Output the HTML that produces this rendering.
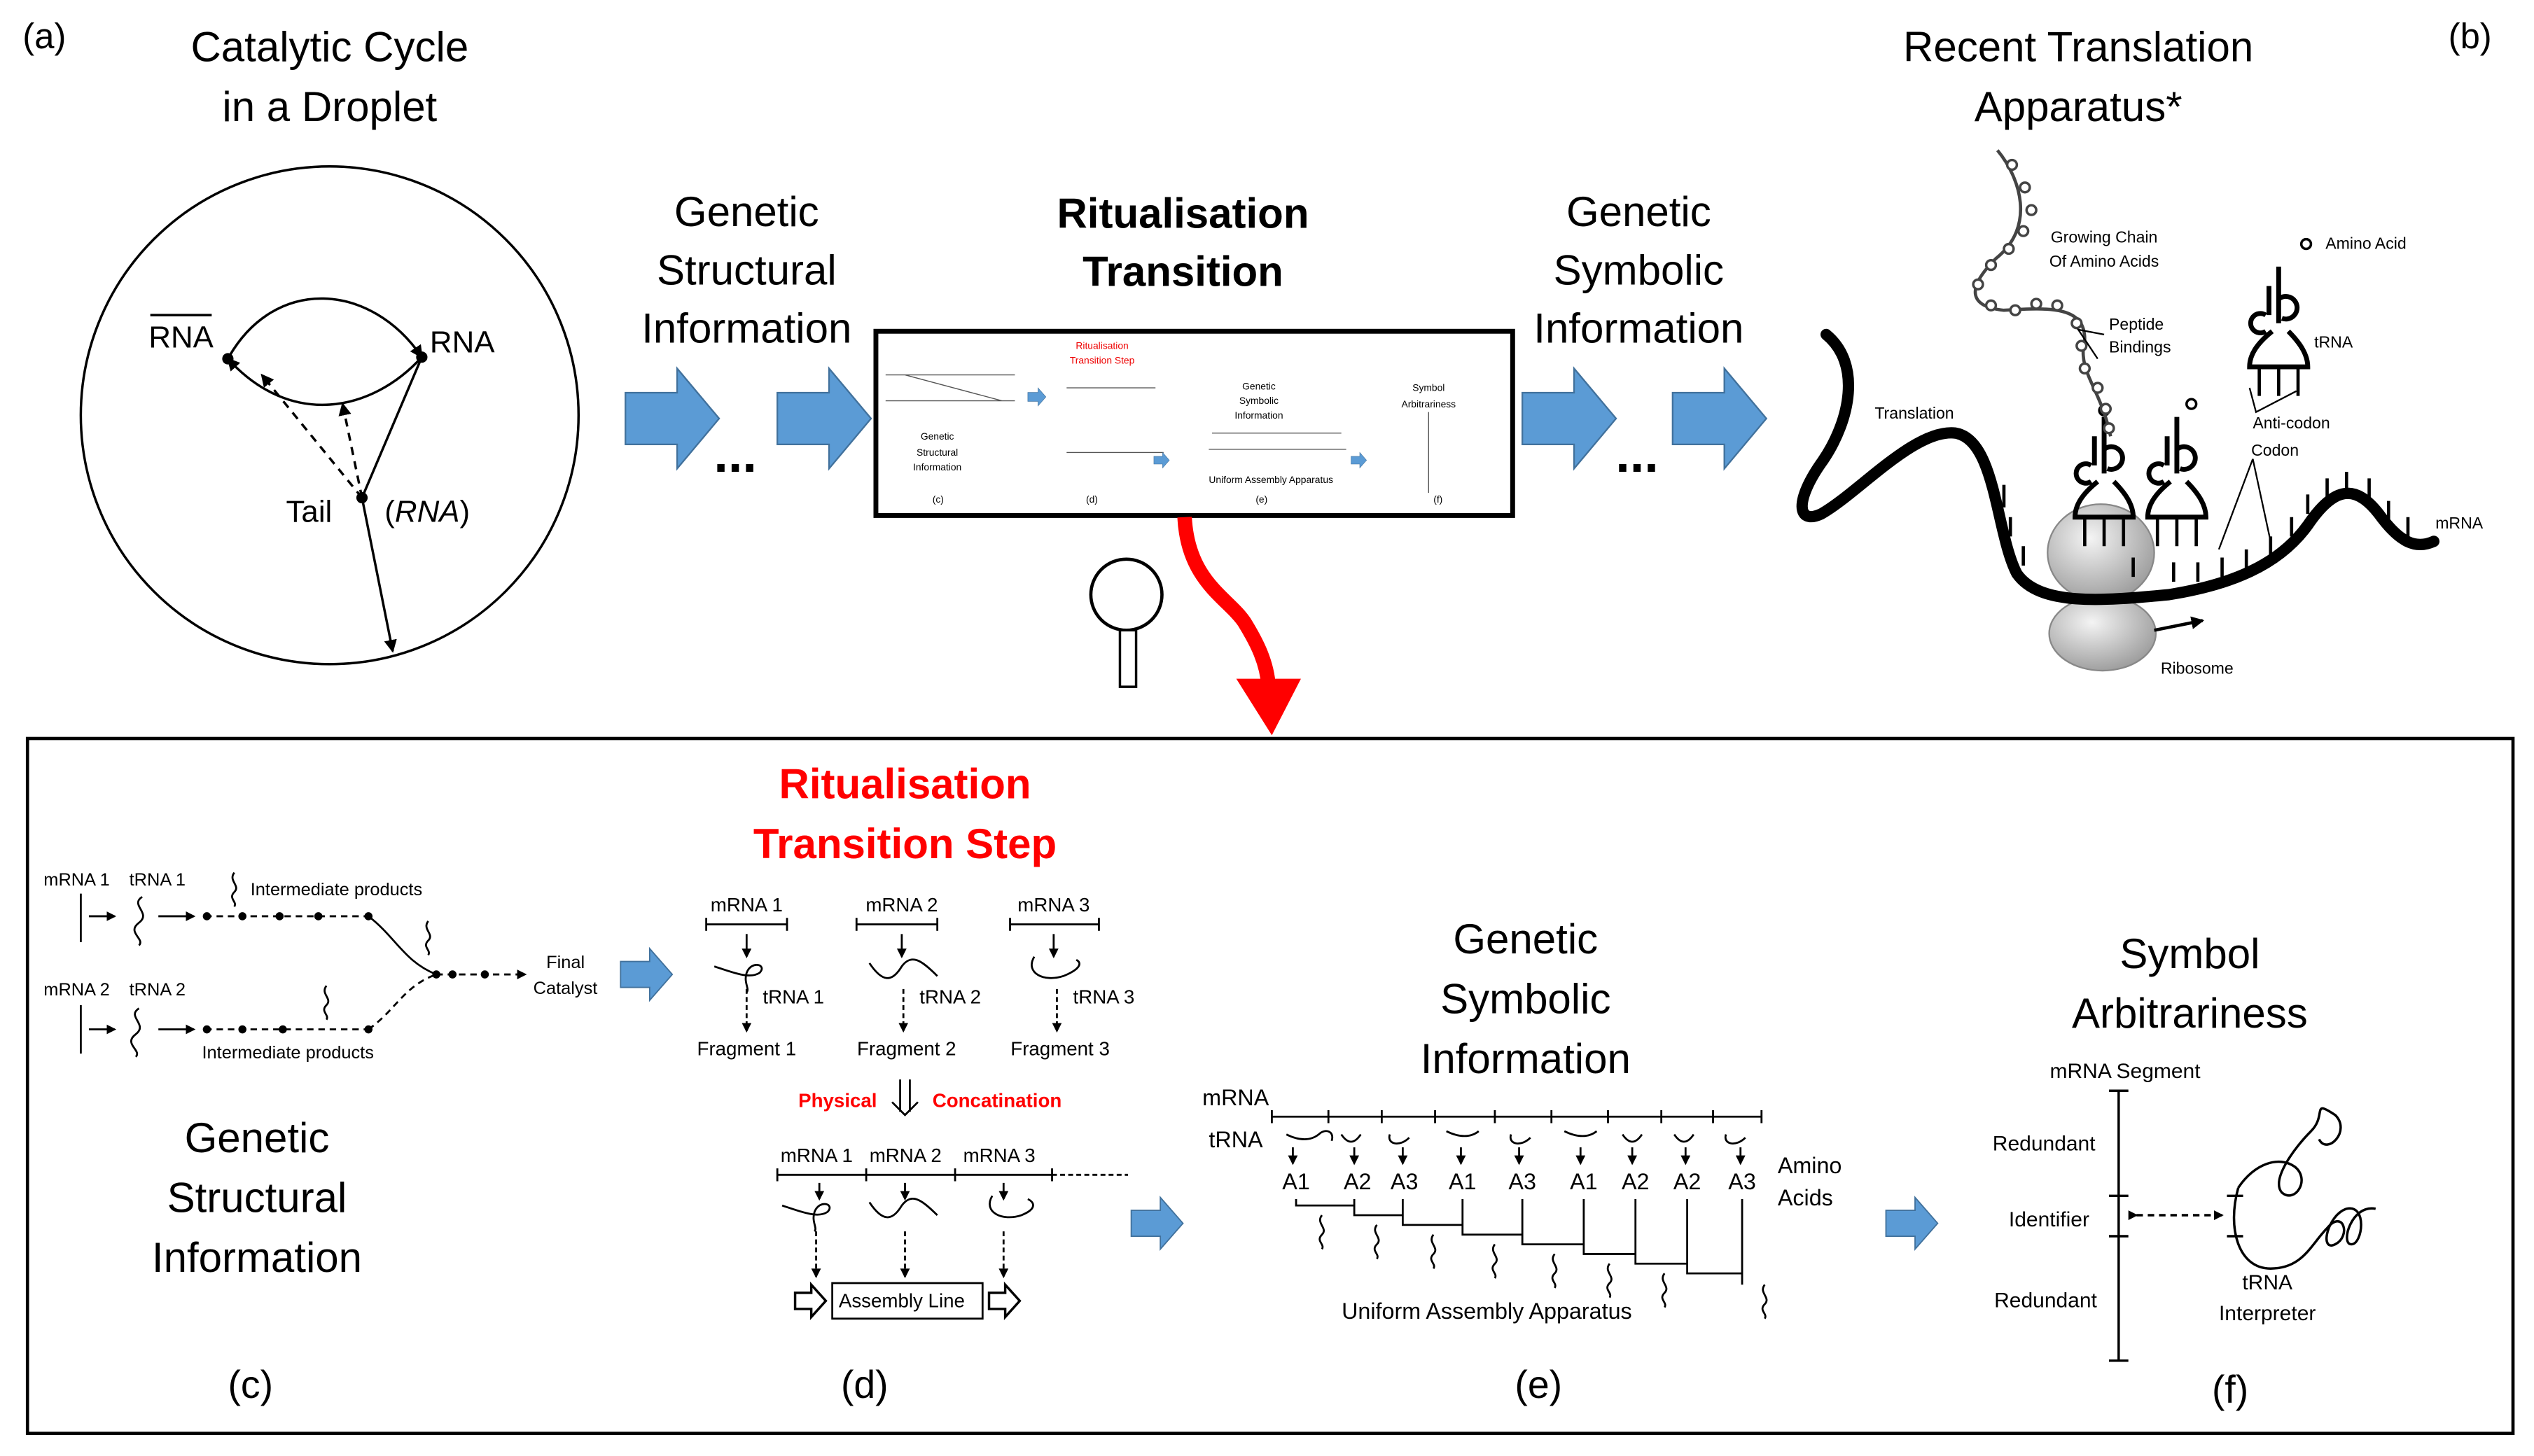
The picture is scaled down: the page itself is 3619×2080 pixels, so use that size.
<!DOCTYPE html>
<html><head><meta charset="utf-8"><style>
html,body{margin:0;padding:0;background:#fff;}
svg{display:block;}
text{font-family:"Liberation Sans",sans-serif;fill:#000;}
</style></head><body>
<svg width="3619" height="2080" viewBox="0 0 1568 901" preserveAspectRatio="none" xmlns="http://www.w3.org/2000/svg">
<defs>
<marker id="ah" markerWidth="8" markerHeight="8" refX="7" refY="4" orient="auto" markerUnits="userSpaceOnUse"><path d="M0,0 L8,4 L0,8 z" fill="#000"/></marker>
<marker id="as" markerWidth="6" markerHeight="6" refX="5" refY="3" orient="auto" markerUnits="userSpaceOnUse"><path d="M0,0 L6,3 L0,6 z" fill="#000"/></marker>
<radialGradient id="rg" cx="40%" cy="35%" r="70%"><stop offset="0" stop-color="#f4f4f4"/><stop offset="1" stop-color="#9a9a9a"/></radialGradient>
<g id="barrow"><path d="M0,15 L32,15 L32,0 L58,31 L32,62 L32,47 L0,47 z" fill="#5b9bd5" stroke="#41719c" stroke-width="1"/></g>
<g id="sarrow"><path d="M0,8 L18,8 L18,0 L32,16 L18,32 L18,24 L0,24 z" fill="#5b9bd5" stroke="#41719c" stroke-width="0.8"/></g>
<g id="trna" fill="none" stroke="#000" stroke-width="3">
<path d="M0,-40 L0,-5 M-6,-28 L-6,-10 M0,-20 a7,7 0 1 1 2,12"/>
<path d="M-8,-10 a6,6 0 1 0 0,10"/>
<path d="M-4,0 C-14,8 -18,15 -18,22 L18,22 C18,15 14,8 6,0"/>
<path d="M-12,22 v18 M0,22 v18 M12,22 v18" stroke-width="2"/>
</g>
</defs>

<!-- (a) -->
<text x="14" y="30" font-size="22">(a)</text>
<text x="204" y="38" font-size="26" text-anchor="middle">Catalytic Cycle</text>
<text x="204" y="75" font-size="26" text-anchor="middle">in a Droplet</text>
<circle cx="204" cy="257" r="154" fill="none" stroke="#000" stroke-width="1.5"/>
<text x="92" y="215" font-size="19">RNA</text>
<line x1="93" y1="195" x2="131" y2="195" stroke="#000" stroke-width="1.5"/>
<text x="266" y="218" font-size="19">RNA</text>
<path d="M141,222 C170,170 230,175 261,221" fill="none" stroke="#000" stroke-width="1.5" marker-end="url(#ah)"/>
<path d="M261,221 C230,255 180,265 141,222" fill="none" stroke="#000" stroke-width="1.5" marker-end="url(#ah)"/>
<circle cx="141" cy="222" r="3.5"/><circle cx="261" cy="221" r="3.5"/>
<circle cx="224" cy="308" r="3.5"/>
<line x1="224" y1="308" x2="261" y2="221" stroke="#000" stroke-width="1.5"/>
<line x1="224" y1="308" x2="162" y2="232" stroke="#000" stroke-width="1.5" stroke-dasharray="5,4" marker-end="url(#ah)"/>
<line x1="224" y1="308" x2="212" y2="250" stroke="#000" stroke-width="1.5" stroke-dasharray="5,4" marker-end="url(#ah)"/>
<line x1="224" y1="308" x2="243" y2="403" stroke="#000" stroke-width="1.5" marker-end="url(#ah)"/>
<text x="177" y="323" font-size="19">Tail</text>
<text x="238" y="323" font-size="19">(<tspan font-style="italic">RNA</tspan>)</text>

<!-- top middle -->
<text x="462" y="140" font-size="26" text-anchor="middle">Genetic</text>
<text x="462" y="176" font-size="26" text-anchor="middle">Structural</text>
<text x="462" y="212" font-size="26" text-anchor="middle">Information</text>
<use href="#barrow" x="387" y="228"/>
<use href="#barrow" x="481" y="228"/>
<text x="455" y="292" font-size="32" font-weight="bold" text-anchor="middle">...</text>
<text x="732" y="141" font-size="26" font-weight="bold" text-anchor="middle">Ritualisation</text>
<text x="732" y="177" font-size="26" font-weight="bold" text-anchor="middle">Transition</text>
<rect x="542" y="205" width="394" height="114" fill="#fff" stroke="#000" stroke-width="3"/>
<g font-size="6">
<text x="682" y="216" style="fill:#e00" text-anchor="middle">Ritualisation</text>
<text x="682" y="225" style="fill:#e00" text-anchor="middle">Transition Step</text>
<text x="580" y="272" text-anchor="middle">Genetic</text>
<text x="580" y="282" text-anchor="middle">Structural</text>
<text x="580" y="291" text-anchor="middle">Information</text>
<text x="779" y="241" text-anchor="middle">Genetic</text>
<text x="779" y="250" text-anchor="middle">Symbolic</text>
<text x="779" y="259" text-anchor="middle">Information</text>
<text x="884" y="242" text-anchor="middle">Symbol</text>
<text x="884" y="252" text-anchor="middle">Arbitrariness</text>
<text x="577" y="311">(c)</text><text x="672" y="311">(d)</text><text x="777" y="311">(e)</text><text x="887" y="311">(f)</text>
<text x="748" y="299">Uniform Assembly Apparatus</text>
</g>
<g stroke="#555" stroke-width="0.6" fill="none">
<path d="M548,232 h80 M548,248 h80 M560,232 l60,16 M750,268 h80 M748,278 h85 M884,255 v50 M660,280 h60 M660,240 h55"/>
</g>
<use href="#sarrow" transform="translate(636,240) scale(0.35)"/>
<use href="#sarrow" transform="translate(714,280) scale(0.3)"/>
<use href="#sarrow" transform="translate(836,280) scale(0.3)"/>
<text x="1014" y="140" font-size="26" text-anchor="middle">Genetic</text>
<text x="1014" y="176" font-size="26" text-anchor="middle">Symbolic</text>
<text x="1014" y="212" font-size="26" text-anchor="middle">Information</text>
<use href="#barrow" x="942" y="228"/>
<use href="#barrow" x="1035" y="228"/>
<text x="1013" y="292" font-size="32" font-weight="bold" text-anchor="middle">...</text>

<!-- magnifier + red arrow -->
<circle cx="697" cy="368" r="22" fill="#fff" stroke="#000" stroke-width="2"/>
<rect x="693" y="390" width="10" height="35" fill="#fff" stroke="#000" stroke-width="1.5"/>
<path d="M733,320 C735,360 760,370 770,385 C778,398 784,410 785,425" fill="none" stroke="#f00" stroke-width="9"/>
<path d="M765,420 L805,420 L787,455 z" fill="#f00"/>

<!-- (b) -->
<text x="1286" y="38" font-size="26" text-anchor="middle">Recent Translation</text>
<text x="1286" y="75" font-size="26" text-anchor="middle">Apparatus*</text>
<text x="1515" y="30" font-size="22">(b)</text>
<ellipse cx="1300" cy="342" rx="33" ry="30" fill="url(#rg)" stroke="#888"/>
<ellipse cx="1301" cy="392" rx="33" ry="23" fill="url(#rg)" stroke="#888"/>
<path d="M1130,207 C1152,225 1145,260 1128,285 C1110,310 1112,325 1127,318 C1150,305 1185,265 1210,268 C1235,272 1235,330 1248,355 C1262,375 1300,372 1342,368 C1380,362 1410,350 1428,325 C1445,300 1458,300 1472,318 C1485,336 1495,340 1506,335" fill="none" stroke="#000" stroke-width="7" stroke-linecap="round"/>
<path d="M1240,300 v14 M1244,320 v12 M1252,338 v12 M1320,345 v12 M1345,348 v12 M1360,348 v12 M1375,345 v12 M1390,340 v12 M1405,332 v12 M1418,320 v12 M1428,306 v12 M1440,296 v12 M1452,292 v12 M1466,296 v12 M1478,310 v12 M1490,320 v12" stroke="#000" stroke-width="2" fill="none"/>
<line x1="1333" y1="390" x2="1363" y2="384" stroke="#000" stroke-width="2" marker-end="url(#ah)"/>
<use href="#trna" x="1302" y="298"/>
<use href="#trna" x="1347" y="298"/>
<use href="#trna" x="1410" y="205"/>
<circle cx="1302" cy="254" r="3" fill="#fff" stroke="#000" stroke-width="1.5"/>
<circle cx="1356" cy="250" r="3" fill="#fff" stroke="#000" stroke-width="1.5"/>
<circle cx="1427" cy="151" r="3" fill="#fff" stroke="#000" stroke-width="1.5"/>
<path d="M1236,93 C1250,110 1260,140 1235,160 C1215,180 1220,190 1240,192 C1270,190 1290,190 1290,210 C1285,230 1300,240 1306,270" fill="none" stroke="#444" stroke-width="2"/>
<g fill="#fff" stroke="#444" stroke-width="1.5">
<circle cx="1245" cy="102" r="3"/><circle cx="1253" cy="116" r="3"/><circle cx="1257" cy="130" r="3"/><circle cx="1252" cy="143" r="3"/><circle cx="1243" cy="154" r="3"/><circle cx="1232" cy="164" r="3"/><circle cx="1224" cy="176" r="3"/><circle cx="1232" cy="189" r="3"/><circle cx="1247" cy="192" r="3"/><circle cx="1260" cy="188" r="3"/><circle cx="1273" cy="189" r="3"/><circle cx="1285" cy="200" r="3"/><circle cx="1288" cy="214" r="3"/><circle cx="1290" cy="228" r="3"/><circle cx="1298" cy="240" r="3"/><circle cx="1303" cy="253" r="3"/><circle cx="1305" cy="265" r="3"/>
</g>
<g font-size="10">
<text x="1302" y="150" text-anchor="middle">Growing Chain</text>
<text x="1302" y="165" text-anchor="middle">Of Amino Acids</text>
<text x="1305" y="204">Peptide</text><text x="1305" y="218">Bindings</text>
<text x="1439" y="154">Amino Acid</text>
<text x="1432" y="215">tRNA</text>
<text x="1394" y="265">Anti-codon</text>
<text x="1393" y="282">Codon</text>
<text x="1160" y="259">Translation</text>
<text x="1507" y="327">mRNA</text>
<text x="1337" y="417">Ribosome</text>
</g>
<path d="M1302,207 L1286,204 L1298,222 M1392,240 L1396,255 L1421,242 M1394,284 L1373,340 M1394,284 L1405,335" fill="none" stroke="#000" stroke-width="1"/>

<!-- bottom panel -->
<rect x="17" y="457" width="1538" height="430" fill="none" stroke="#000" stroke-width="2"/>

<!-- (c) -->
<g font-size="11">
<text x="27" y="548">mRNA 1</text><text x="80" y="548">tRNA 1</text>
<text x="155" y="554">Intermediate products</text>
<text x="27" y="616">mRNA 2</text><text x="80" y="616">tRNA 2</text>
<text x="125" y="655">Intermediate products</text>
<text x="338" y="599">Final</text><text x="330" y="615">Catalyst</text>
</g>
<g stroke="#000" stroke-width="1.2" fill="none">
<line x1="50" y1="553" x2="50" y2="583"/><line x1="55" y1="567" x2="71" y2="567" marker-end="url(#as)"/>
<path d="M88,555 c-8,5 6,10 -2,16 c-8,6 4,10 0,14"/>
<line x1="98" y1="567" x2="120" y2="567" marker-end="url(#as)"/>
<line x1="127" y1="567" x2="228" y2="567" stroke-dasharray="4,3"/>
<path d="M228,567 C245,580 250,595 270,603"/>
<line x1="50" y1="622" x2="50" y2="652"/><line x1="55" y1="637" x2="71" y2="637" marker-end="url(#as)"/>
<path d="M86,624 c-8,5 6,10 -2,16 c-8,6 4,10 0,14"/>
<line x1="98" y1="637" x2="120" y2="637" marker-end="url(#as)"/>
<line x1="127" y1="637" x2="228" y2="637" stroke-dasharray="4,3"/>
<path d="M228,637 C245,625 250,610 270,603" stroke-dasharray="4,3"/>
<line x1="270" y1="603" x2="325" y2="603" stroke-dasharray="4,3" marker-end="url(#as)"/>
<path d="M145,540 c-4,5 4,8 0,12 c-4,4 2,6 0,9" /><path d="M265,570 c-4,5 4,8 0,12 c-4,4 2,6 0,9"/><path d="M202,610 c-4,5 4,8 0,12 c-4,4 2,6 0,9"/>
</g>
<g><circle cx="128" cy="567" r="2.5"/><circle cx="150" cy="567" r="2.5"/><circle cx="173" cy="567" r="2.5"/><circle cx="197" cy="567" r="2.5"/><circle cx="228" cy="567" r="2.5"/>
<circle cx="128" cy="637" r="2.5"/><circle cx="150" cy="637" r="2.5"/><circle cx="175" cy="637" r="2.5"/><circle cx="228" cy="637" r="2.5"/><circle cx="270" cy="603" r="2.5"/><circle cx="280" cy="603" r="2.5"/><circle cx="300" cy="603" r="2.5"/></g>
<use href="#sarrow" x="384" y="587"/>
<text x="159" y="713" font-size="26" text-anchor="middle">Genetic</text>
<text x="159" y="750" font-size="26" text-anchor="middle">Structural</text>
<text x="159" y="787" font-size="26" text-anchor="middle">Information</text>
<text x="155" y="865" font-size="24" text-anchor="middle">(c)</text>

<!-- (d) -->
<text x="560" y="494" font-size="26" font-weight="bold" style="fill:#f00" text-anchor="middle">Ritualisation</text>
<text x="560" y="531" font-size="26" font-weight="bold" style="fill:#f00" text-anchor="middle">Transition Step</text>
<g font-size="12">
<text x="462" y="564" text-anchor="middle">mRNA 1</text><text x="558" y="564" text-anchor="middle">mRNA 2</text><text x="652" y="564" text-anchor="middle">mRNA 3</text>
<text x="472" y="621">tRNA 1</text><text x="569" y="621">tRNA 2</text><text x="664" y="621">tRNA 3</text>
<text x="462" y="653" text-anchor="middle">Fragment 1</text><text x="561" y="653" text-anchor="middle">Fragment 2</text><text x="656" y="653" text-anchor="middle">Fragment 3</text>
<text x="494" y="685" font-weight="bold" style="fill:#f00">Physical</text>
<text x="577" y="685" font-weight="bold" style="fill:#f00">Concatination</text>
<text x="483" y="719">mRNA 1</text><text x="538" y="719">mRNA 2</text><text x="596" y="719">mRNA 3</text>
<text x="519" y="809">Assembly Line</text>
</g>
<g stroke="#000" stroke-width="1.2" fill="none">
<path d="M437,572 h50 M437,568 v8 M487,568 v8 M530,572 h50 M530,568 v8 M580,568 v8 M625,572 h55 M625,568 v8 M680,568 v8"/>
<line x1="462" y1="578" x2="462" y2="592" marker-end="url(#as)"/><line x1="558" y1="578" x2="558" y2="592" marker-end="url(#as)"/><line x1="652" y1="578" x2="652" y2="592" marker-end="url(#as)"/>
<path d="M442,598 c12,4 22,8 28,4 c5,-5 -5,-8 -8,0 c-2,6 2,10 0,12" /><path d="M538,596 c8,12 14,12 20,2 c6,-8 12,-4 22,6"/><path d="M640,592 c-6,10 6,16 18,12 c10,-4 12,-8 8,-10"/>
<line x1="462" y1="612" x2="462" y2="638" stroke-dasharray="3,2" marker-end="url(#as)"/><line x1="559" y1="612" x2="559" y2="638" stroke-dasharray="3,2" marker-end="url(#as)"/><line x1="654" y1="612" x2="654" y2="638" stroke-dasharray="3,2" marker-end="url(#as)"/>
<path d="M557,668 v20 M563,668 v20 M552,682 l8,8 l8,-8"/>
<path d="M481,727 h170 M481,723 v8 M536,723 v8 M591,723 v8 M651,723 v8"/><path d="M651,727 h47" stroke-dasharray="3,2"/>
<line x1="507" y1="732" x2="507" y2="742" marker-end="url(#as)"/><line x1="560" y1="732" x2="560" y2="742" marker-end="url(#as)"/><line x1="621" y1="732" x2="621" y2="742" marker-end="url(#as)"/>
<path d="M484,746 c12,4 22,8 28,4 c5,-5 -5,-8 -8,0 c-2,6 2,10 0,12"/><path d="M538,744 c8,12 14,12 20,2 c6,-8 12,-4 22,6"/><path d="M614,740 c-6,10 6,16 18,12 c10,-4 8,-8 4,-10"/>
<line x1="505" y1="762" x2="505" y2="790" stroke-dasharray="3,2" marker-end="url(#as)"/><line x1="560" y1="762" x2="560" y2="790" stroke-dasharray="3,2" marker-end="url(#as)"/><line x1="621" y1="762" x2="621" y2="790" stroke-dasharray="3,2" marker-end="url(#as)"/>
<rect x="515" y="794" width="93" height="22"/>
<path d="M492,800 h10 v-5 l9,10 l-9,10 v-5 h-10 z M612,800 h10 v-5 l9,10 l-9,10 v-5 h-10 z" stroke-width="1.5"/>
</g>
<text x="535" y="865" font-size="24" text-anchor="middle">(d)</text>
<use href="#sarrow" x="700" y="741"/>

<!-- (e) -->
<text x="944" y="590" font-size="26" text-anchor="middle">Genetic</text>
<text x="944" y="627" font-size="26" text-anchor="middle">Symbolic</text>
<text x="944" y="664" font-size="26" text-anchor="middle">Information</text>
<text x="744" y="684" font-size="14">mRNA</text>
<text x="748" y="710" font-size="14">tRNA</text>
<text x="1100" y="726" font-size="14">Amino</text><text x="1100" y="746" font-size="14">Acids</text>
<g font-size="14" text-anchor="middle">
<text x="802" y="736">A1</text><text x="840" y="736">A2</text><text x="869" y="736">A3</text><text x="905" y="736">A1</text><text x="942" y="736">A3</text><text x="980" y="736">A1</text><text x="1012" y="736">A2</text><text x="1044" y="736">A2</text><text x="1078" y="736">A3</text>
</g>
<text x="920" y="816" font-size="14" text-anchor="middle">Uniform Assembly Apparatus</text>
<g stroke="#000" stroke-width="1.2" fill="none">
<line x1="787" y1="691" x2="1090" y2="691"/>
<path d="M787,687v8 M822,687v8 M855,687v8 M888,687v8 M925,687v8 M960,687v8 M995,687v8 M1028,687v8 M1060,687v8 M1090,687v8"/>
<path d="M796,702 c8,4 15,4 20,0 c4,-4 10,-2 8,4 M830,702 c4,6 8,6 12,0 M860,702 c-2,6 6,8 12,2 M895,700 c8,4 15,4 20,0 M935,702 c-2,6 6,8 12,2 M968,700 c8,4 15,4 20,0 M1004,702 c4,6 8,6 12,0 M1036,702 c4,6 8,6 12,0 M1068,702 c-2,6 6,8 12,2"/>
<line x1="800" y1="710" x2="800" y2="720" marker-end="url(#as)"/><line x1="838" y1="710" x2="838" y2="720" marker-end="url(#as)"/><line x1="868" y1="710" x2="868" y2="720" marker-end="url(#as)"/><line x1="904" y1="710" x2="904" y2="720" marker-end="url(#as)"/><line x1="940" y1="710" x2="940" y2="720" marker-end="url(#as)"/><line x1="978" y1="710" x2="978" y2="720" marker-end="url(#as)"/><line x1="1010" y1="710" x2="1010" y2="720" marker-end="url(#as)"/><line x1="1043" y1="710" x2="1043" y2="720" marker-end="url(#as)"/><line x1="1077" y1="710" x2="1077" y2="720" marker-end="url(#as)"/>
<path d="M802,742 V746 H838 M838,742 V752 H868 M868,742 V758 H905 M905,742 V764 H942 M942,742 V770 H980 M980,742 V776 H1012 M1012,742 V782 H1044 M1044,742 V788 H1078 M1078,742 V795"/>
<path d="M818,752 c-4,5 4,8 0,12 c-4,4 2,6 0,9 M852,758 c-4,5 4,8 0,12 c-4,4 2,6 0,9 M887,764 c-4,5 4,8 0,12 c-4,4 2,6 0,9 M925,770 c-4,5 4,8 0,12 c-4,4 2,6 0,9 M962,776 c-4,5 4,8 0,12 c-4,4 2,6 0,9 M996,782 c-4,5 4,8 0,12 c-4,4 2,6 0,9 M1030,788 c-4,5 4,8 0,12 c-4,4 2,6 0,9 M1092,795 c-4,5 4,8 0,12 c-4,4 2,6 0,9"/>
</g>
<text x="952" y="865" font-size="24" text-anchor="middle">(e)</text>
<use href="#sarrow" x="1167" y="741"/>

<!-- (f) -->
<text x="1355" y="599" font-size="26" text-anchor="middle">Symbol</text>
<text x="1355" y="636" font-size="26" text-anchor="middle">Arbitrariness</text>
<g font-size="13">
<text x="1315" y="667" text-anchor="middle">mRNA Segment</text>
<text x="1233" y="712">Redundant</text>
<text x="1243" y="759">Identifier</text>
<text x="1234" y="809">Redundant</text>
<text x="1403" y="798" text-anchor="middle">tRNA</text>
<text x="1403" y="817" text-anchor="middle">Interpreter</text>
</g>
<g stroke="#000" stroke-width="1.5" fill="none">
<line x1="1311" y1="675" x2="1311" y2="842"/>
<path d="M1305,675h12 M1305,740h12 M1305,765h12 M1305,842h12"/>
<line x1="1322" y1="752" x2="1375" y2="752" stroke-dasharray="4,3" marker-end="url(#as)" marker-start="url(#as)"/>
<path d="M1378,740 h10 M1378,765 h10"/>
<path d="M1385,735 C1378,760 1385,785 1405,785 C1425,785 1430,770 1440,760 C1450,748 1455,765 1445,770 C1435,775 1440,752 1452,748 C1465,745 1462,770 1455,770 C1448,770 1455,745 1470,748"/>
<path d="M1385,735 C1395,720 1410,715 1420,722 C1430,730 1420,745 1412,738 C1405,730 1420,710 1430,700 C1440,690 1430,680 1445,690 C1455,700 1440,715 1435,705"/>
</g>
<text x="1380" y="868" font-size="24" text-anchor="middle">(f)</text>
</svg>
</body></html>
